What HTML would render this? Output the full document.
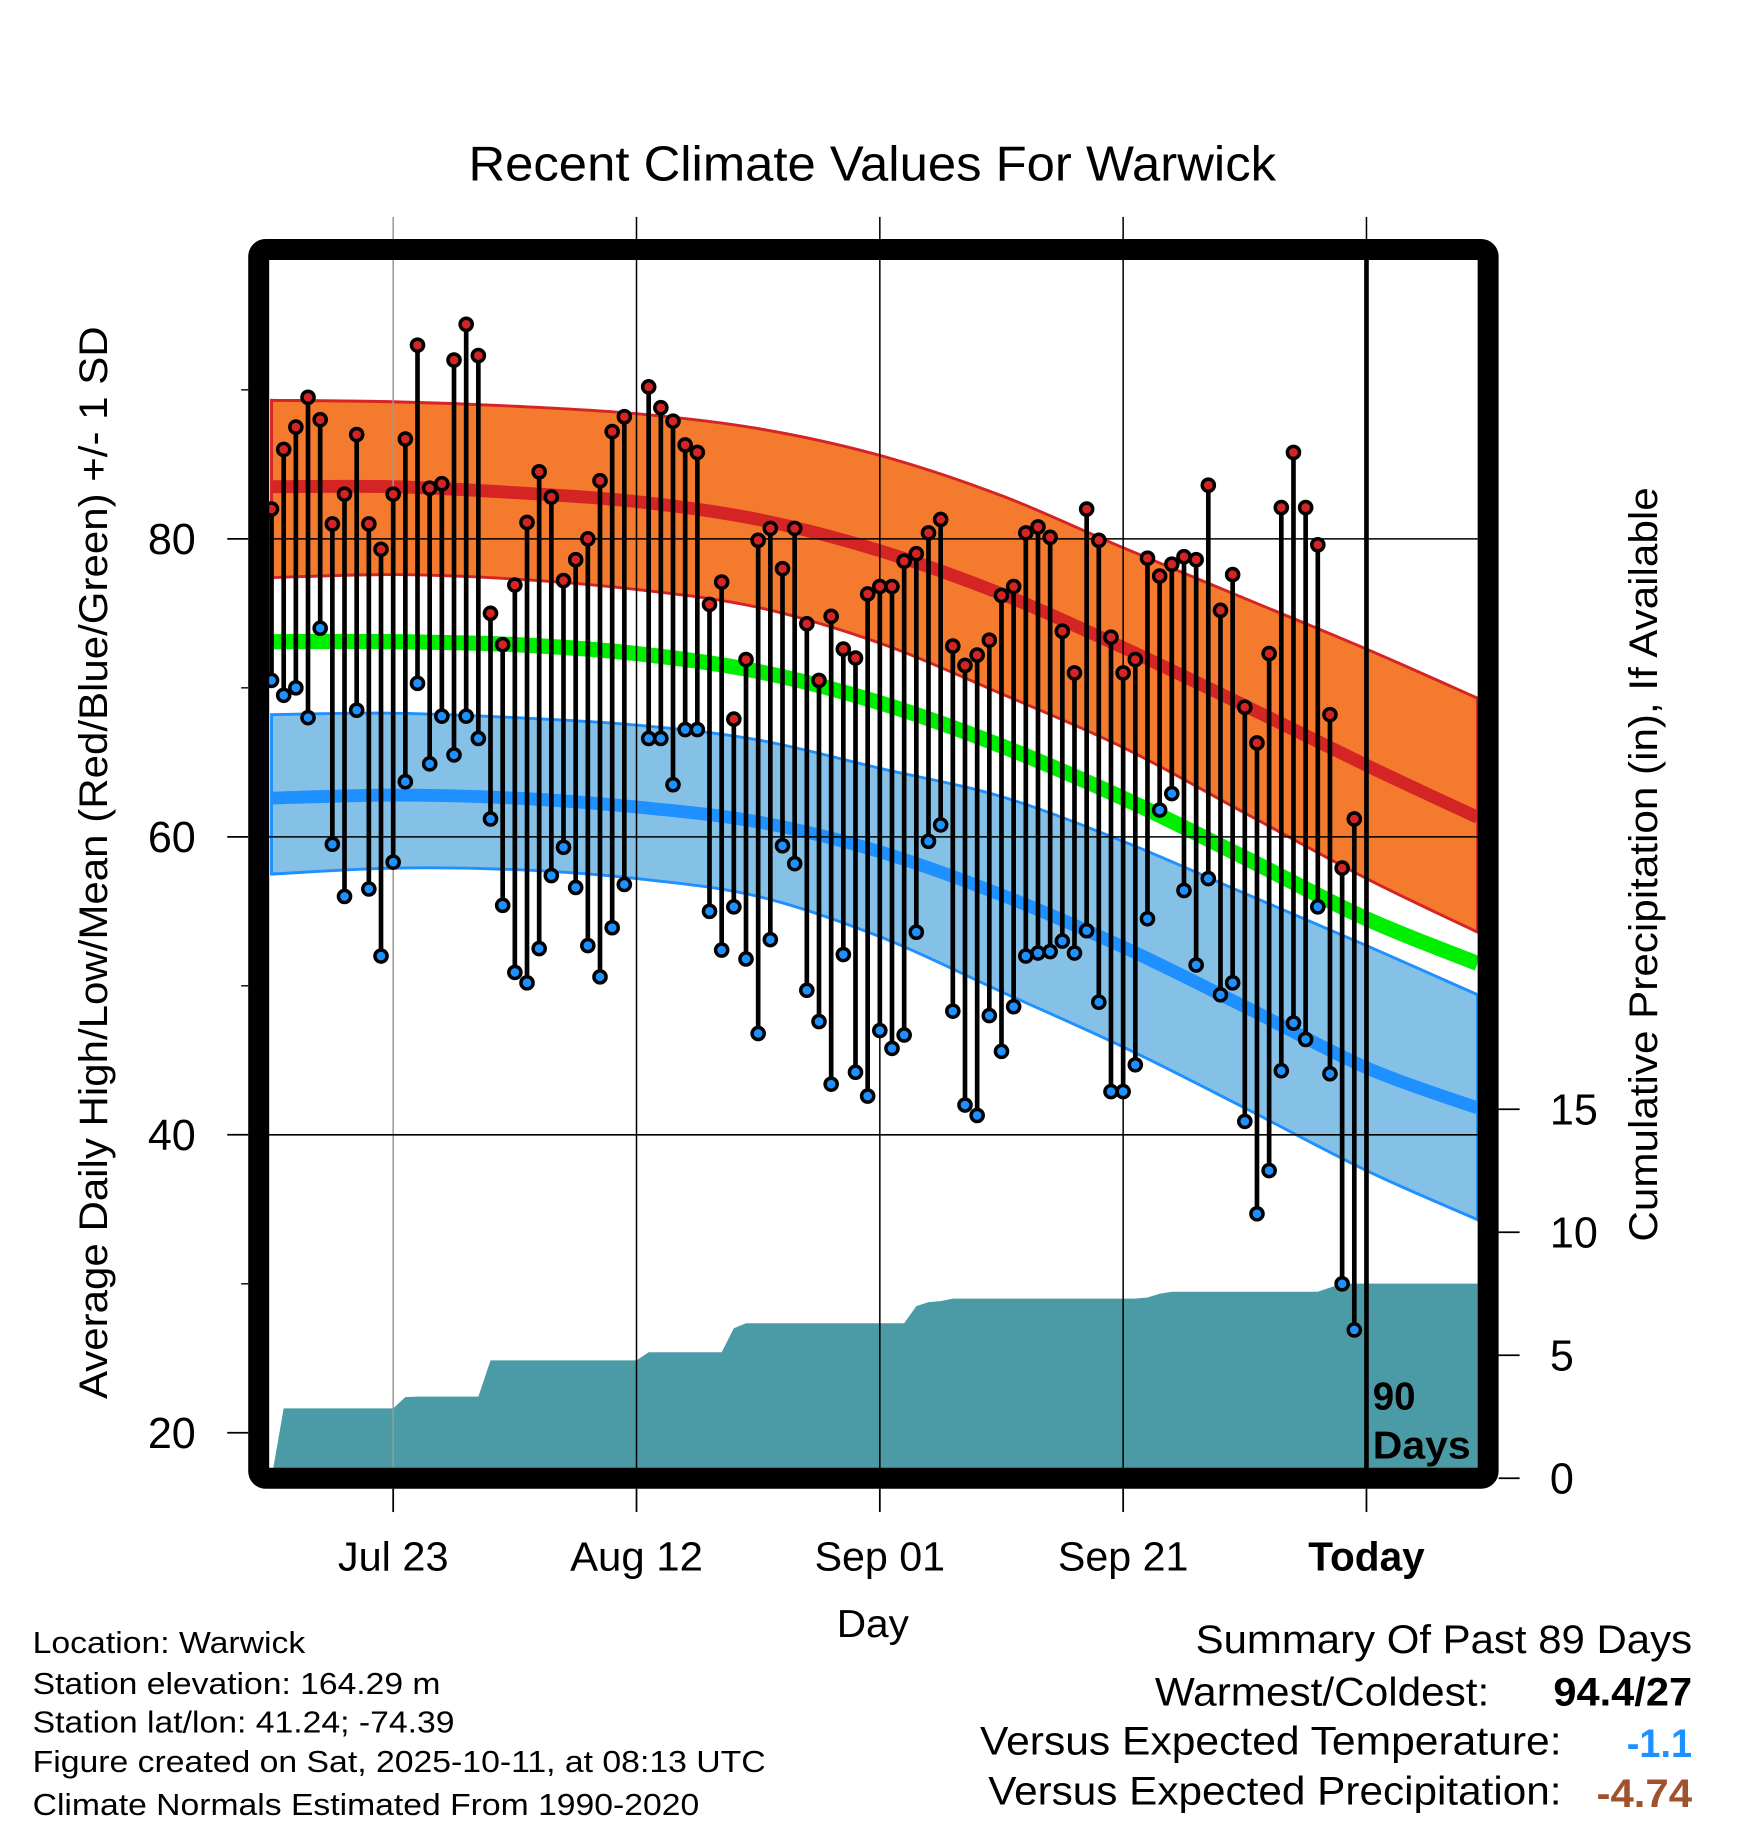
<!DOCTYPE html>
<html><head><meta charset="utf-8"><style>
html,body{margin:0;padding:0;background:#fff;}
svg{display:block;font-family:"Liberation Sans",Arial,sans-serif;}
</style></head><body>
<svg id="chart" width="1748" height="1828" viewBox="0 0 1500 1568" preserveAspectRatio="none" xmlns="http://www.w3.org/2000/svg">
<rect x="0" y="0" width="1500" height="1568" fill="#fff"/>
<text x="402" y="155" font-size="42" textLength="693" lengthAdjust="spacingAndGlyphs">Recent Climate Values For Warwick</text>
<g id="bands"></g>
<g id="precip"></g>
<g id="grid"></g>
<g id="marks"></g>
<g id="axes"></g>
<rect x="222" y="214" width="1055" height="1054" fill="none" stroke="#000" stroke-width="18" rx="6"/>
<text x="1178" y="1209" font-size="33" font-weight="bold">90</text>
<text x="1178" y="1251" font-size="33" font-weight="bold" textLength="84" lengthAdjust="spacingAndGlyphs">Days</text>
<text transform="translate(92,1200) rotate(-90)" font-size="34" textLength="920" lengthAdjust="spacingAndGlyphs">Average Daily High/Low/Mean (Red/Blue/Green) +/- 1 SD</text>
<text transform="translate(1422,1065) rotate(-90)" font-size="34" textLength="647" lengthAdjust="spacingAndGlyphs">Cumulative Precipitation (in), If Available</text>
<text x="718" y="1404" font-size="33" textLength="62" lengthAdjust="spacingAndGlyphs">Day</text>
<g font-size="26">
<text x="28" y="1418" textLength="234" lengthAdjust="spacingAndGlyphs">Location: Warwick</text>
<text x="28" y="1453" textLength="350" lengthAdjust="spacingAndGlyphs">Station elevation: 164.29 m</text>
<text x="28" y="1486" textLength="362" lengthAdjust="spacingAndGlyphs">Station lat/lon: 41.24; -74.39</text>
<text x="28" y="1520" textLength="629" lengthAdjust="spacingAndGlyphs">Figure created on Sat, 2025-10-11, at 08:13 UTC</text>
<text x="28" y="1557" textLength="572" lengthAdjust="spacingAndGlyphs">Climate Normals Estimated From 1990-2020</text>
</g>
<g font-size="34">
<text x="1026" y="1418" textLength="426" lengthAdjust="spacingAndGlyphs">Summary Of Past 89 Days</text>
<text x="991" y="1463" textLength="287" lengthAdjust="spacingAndGlyphs">Warmest/Coldest:</text>
<text x="1333" y="1463" font-weight="bold" textLength="119" lengthAdjust="spacingAndGlyphs">94.4/27</text>
<text x="841" y="1505" textLength="499" lengthAdjust="spacingAndGlyphs">Versus Expected Temperature:</text>
<text x="1396" y="1507" font-weight="bold" fill="#1e90ff" textLength="56" lengthAdjust="spacingAndGlyphs">-1.1</text>
<text x="848" y="1548" textLength="492" lengthAdjust="spacingAndGlyphs">Versus Expected Precipitation:</text>
<text x="1370" y="1550" font-weight="bold" fill="#a0522d" textLength="82" lengthAdjust="spacingAndGlyphs">-4.74</text>
</g>
</svg>
<script>
const highs=[82,86,87.5,89.5,88,81,83,87,81,79.3,83,86.7,93,83.4,83.7,92,94.4,92.3,75,72.9,76.9,81.1,84.5,82.8,77.2,78.6,80,83.9,87.2,88.2,null,90.2,88.8,87.9,86.3,85.8,75.6,77.1,67.9,71.9,79.9,80.7,78,80.7,74.3,70.5,74.8,72.6,72,76.3,76.8,76.8,78.5,79,80.4,81.3,72.8,71.5,72.2,73.2,76.2,76.8,80.4,80.8,80.1,73.8,71,82,79.9,73.4,71,71.9,78.7,77.5,78.3,78.8,78.6,83.6,75.2,77.6,68.7,66.3,72.3,82.1,85.8,82.1,79.6,68.2,57.9,61.2];
const lows=[70.5,69.5,70,68,74,59.5,56,68.5,56.5,52,58.3,63.7,70.3,64.9,68.1,65.5,68.1,66.6,61.2,55.4,50.9,50.2,52.5,57.4,59.3,56.6,52.7,50.6,53.9,56.8,null,66.6,66.6,63.5,67.2,67.2,55,52.4,55.3,51.8,46.8,53.1,59.4,58.2,49.7,47.6,43.4,52.1,44.2,42.6,47,45.8,46.7,53.6,59.7,60.8,48.3,42,41.3,48,45.6,48.6,52,52.2,52.3,53,52.2,53.7,48.9,42.9,42.9,44.7,54.5,61.8,62.9,56.4,51.4,57.2,49.4,50.2,40.9,34.7,37.6,44.3,47.5,46.4,55.3,44.1,30,26.9];
const precip=[0,2.84,2.84,2.84,2.84,2.84,2.84,2.84,2.84,2.84,2.84,3.3,3.32,3.32,3.32,3.32,3.32,3.32,4.79,4.79,4.79,4.79,4.79,4.79,4.79,4.79,4.79,4.79,4.79,4.79,null,5.12,5.12,5.12,5.12,5.12,5.12,5.12,6.1,6.3,6.3,6.3,6.3,6.3,6.3,6.3,6.3,6.3,6.3,6.3,6.3,6.3,6.3,7.0,7.16,7.2,7.3,7.3,7.3,7.3,7.3,7.3,7.3,7.3,7.3,7.3,7.3,7.3,7.3,7.3,7.3,7.3,7.35,7.5,7.58,7.58,7.58,7.58,7.58,7.58,7.58,7.58,7.58,7.58,7.58,7.58,7.58,7.75,7.91,7.91];
const normDays=[0,10,20,30,40,50,60,70,80,90,99];
const hiUpper=[89.3,89.2,88.9,88.4,87.4,85.6,82.9,79.4,76.0,72.6,69.3];
const hiMean=[83.5,83.5,83.1,82.5,81.3,79.2,76.3,72.7,68.8,64.8,61.3];
const hiLower=[77.4,77.6,77.3,76.6,75.4,73.0,69.6,66.0,61.6,57.2,53.6];
const avgMean=[73.1,73.1,72.9,72.3,71.1,69.0,66.1,62.6,58.6,54.5,51.5];
const loUpper=[68.2,68.3,68.0,67.5,66.5,64.6,62.7,59.7,56.2,52.7,49.4];
const loMean=[62.6,62.8,62.6,62.0,61.0,59.0,56.1,52.6,48.6,44.5,41.8];
const loLower=[57.5,57.9,57.8,57.2,56.0,53.3,49.6,45.9,41.8,37.6,34.3];
const xTickLabels=["Jul 23","Aug 12","Sep 01","Sep 21","Today"];
const xTickDays=[10,30,50,70,90];
const xTickWidths=[95,114,112,112,100];
const yTicks=[20,40,60,80];
const yMinor=[30,50,70,90];
const pTicks=[0,5,10,15];

const NS="http://www.w3.org/2000/svg";
function xS(d){return 233+10.44*d;}
function yS(t){return 1229-(t-20)*12.78;}
function pS(p){return 1268-p*21.1;}
function mk(tag,attrs,parent){const e=document.createElementNS(NS,tag);for(const k in attrs)e.setAttribute(k,attrs[k]);parent.appendChild(e);return e;}
function smooth(pts){let d="M"+pts[0][0]+","+pts[0][1];for(let i=0;i<pts.length-1;i++){const p0=pts[Math.max(0,i-1)],p1=pts[i],p2=pts[i+1],p3=pts[Math.min(pts.length-1,i+2)];const c1x=p1[0]+(p2[0]-p0[0])/6,c1y=p1[1]+(p2[1]-p0[1])/6,c2x=p2[0]-(p3[0]-p1[0])/6,c2y=p2[1]-(p3[1]-p1[1])/6;d+=" C"+c1x+","+c1y+" "+c2x+","+c2y+" "+p2[0]+","+p2[1];}return d;}
function linePts(arr){return normDays.map((d,i)=>[d===99?1268:xS(d),yS(arr[i])]);}
function bandPath(up,lo){const a=linePts(up),b=linePts(lo).reverse();const sb=smooth(b);return smooth(a)+" L"+b[0][0]+","+b[0][1]+sb.slice(sb.indexOf(" C"))+" Z";}

const bands=document.getElementById('bands');
let e;
e=mk('path',{d:bandPath(hiUpper,hiLower),fill:'#f47a2e',stroke:'#d42424','stroke-width':2.5},bands);


e=mk('path',{d:bandPath(loUpper,loLower),fill:'#85c0e6',stroke:'#1e90ff','stroke-width':2.5},bands);


e=mk('path',{d:smooth(linePts(hiMean)),fill:'none',stroke:'#d42424','stroke-width':11},bands);


e=mk('path',{d:smooth(linePts(avgMean)),fill:'none',stroke:'#00ee00','stroke-width':13},bands);


e=mk('path',{d:smooth(linePts(loMean)),fill:'none',stroke:'#1e90ff','stroke-width':11},bands);



const pg=document.getElementById('precip');
let pd="M"+xS(0)+","+pS(0);let last=0;
precip.forEach((v,i)=>{if(v===null)v=last;last=v;pd+=" L"+xS(i)+","+pS(v);});
pd+=" L1268,"+pS(last)+" L1268,1268 L"+xS(0)+",1268 Z";
e=mk('path',{d:pd,fill:'#4a9ba5'},pg);



const g=document.getElementById('grid');
xTickDays.forEach((d,i)=>{
  const l=mk('line',{x1:xS(d),x2:xS(d),y1:186,y2:1268,stroke:i===0?'#999':'#000','stroke-width':1.3},g);
  
  
});
yTicks.forEach(t=>{
  if(t===20)return;
  const l=mk('line',{x1:222,x2:1268,y1:yS(t),y2:yS(t),stroke:'#000','stroke-width':1.3},g);
  
  
});

const m=document.getElementById('marks');
highs.forEach((h,i)=>{
  const lo=lows[i];if(h===null||lo===null)return;
  const s=mk('line',{x1:xS(i),x2:xS(i),y1:yS(h),y2:yS(lo),stroke:'#000','stroke-width':4},m);
  
  
});
highs.forEach((h,i)=>{
  if(h===null)return;
  const c=mk('circle',{cx:xS(i),cy:yS(h),r:5.2,fill:'#d42424',stroke:'#000','stroke-width':3},m);
  
  
});
lows.forEach((lo,i)=>{
  if(lo===null)return;
  const c=mk('circle',{cx:xS(i),cy:yS(lo),r:5.2,fill:'#1e90ff',stroke:'#000','stroke-width':3},m);
  
  
});
e=mk('line',{x1:xS(90),x2:xS(90),y1:206,y2:1268,stroke:'#000','stroke-width':4},m);



const ax=document.getElementById('axes');
xTickDays.forEach((d,i)=>{
  const t=mk('line',{x1:xS(d),x2:xS(d),y1:1277,y2:1297,stroke:'#000','stroke-width':1.5},ax);
  
  
  const tx=mk('text',{x:xS(d)-xTickWidths[i]/2,y:1347,'font-size':35,textLength:xTickWidths[i],lengthAdjust:'spacingAndGlyphs'},ax);
  if(i===4)tx.setAttribute('font-weight','bold');
  tx.textContent=xTickLabels[i];
  
  
});
yTicks.forEach(t=>{
  const l=mk('line',{x1:195,x2:213,y1:yS(t),y2:yS(t),stroke:'#000','stroke-width':1.5},ax);
  
  
  const tx=mk('text',{x:168,y:yS(t)+13,'font-size':37,'text-anchor':'end'},ax);
  tx.textContent=t;
  
  
});
yMinor.forEach(t=>{
  const l=mk('line',{x1:207,x2:213,y1:yS(t),y2:yS(t),stroke:'#000','stroke-width':1.2},ax);
  
  
});
pTicks.forEach(p=>{
  const y=p===0?1268:pS(p);
  const l=mk('line',{x1:1286,x2:1304,y1:y,y2:y,stroke:'#000','stroke-width':1.5},ax);
  
  
  const tx=mk('text',{x:1330,y:y+13,'font-size':37},ax);
  tx.textContent=p;
  
  
});
</script>
</body></html>
